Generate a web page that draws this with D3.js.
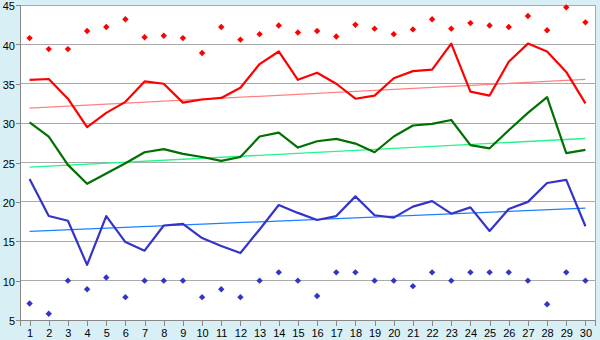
<!DOCTYPE html>
<html>
<head>
<meta charset="utf-8">
<script src="https://cdn.jsdelivr.net/npm/d3@7/dist/d3.min.js"></script>
<style>
body{margin:0;background:#d9eff6;}
text{font-family:"Liberation Sans",Arial,sans-serif;font-size:11px;fill:#000;}
</style>
</head>
<body>
<svg id="chart" width="600" height="340"></svg>
<script>
// jours du mois (axe x)
const days=[1,2,3,4,5,6,7,8,9,10,11,12,13,14,15,16,17,18,19,20,21,22,23,24,25,26,27,28,29,30];
const yTicks=[5,10,15,20,25,30,35,40,45];

// courbes journalieres
const redLine=[35.5,35.6,33.1,29.5,31.3,32.7,35.3,35.0,32.6,33.0,33.2,34.5,37.5,39.1,35.5,36.4,35.0,33.1,33.5,35.7,36.6,36.8,40.1,34.0,33.5,37.8,40.1,39.1,36.5,32.5];
const greenLine=[30.1,28.3,24.7,22.3,23.6,24.9,26.3,26.7,26.1,25.7,25.2,25.7,28.3,28.8,26.9,27.7,28.0,27.4,26.3,28.3,29.7,29.9,30.4,27.2,26.8,29.1,31.3,33.3,26.2,26.6];
const blueLine=[22.9,18.2,17.6,12.0,18.2,14.9,13.8,17.0,17.2,15.4,14.4,13.5,16.5,19.6,18.6,17.7,18.2,20.7,18.3,18.0,19.4,20.1,18.5,19.3,16.3,19.1,20.0,22.4,22.8,16.9];

// extremes (points)
const redMax=[40.8,39.4,39.4,41.7,42.2,43.2,40.9,41.1,40.8,38.9,42.2,40.6,41.3,42.4,41.5,41.7,41.0,42.5,42.0,41.3,41.9,43.2,42.0,42.7,42.4,42.2,43.6,41.8,44.7,42.8];
const blueMin=[7.1,5.8,10,8.9,10.4,7.9,10,10,10,7.9,8.9,7.9,10,11.05,10,8.05,11.05,11.05,10,10,9.3,11.05,10,11.05,11.05,11.05,10,7.0,11.05,10];

// tendances (debut, fin)
const redTrend=[31.9,35.55];
const greenTrend=[24.4,28.05];
const blueTrend=[16.25,19.2];

const svg=d3.select("#chart");
const mLeft=20,mRight=595,mTop=5,mBottom=320;

let x=d3.scalePoint().domain(days).range([mLeft,mRight]).padding(0.5);
let y=d3.scaleLinear().domain([5,45]).range([mBottom,mTop]);

// fond blanc du graphique
svg.append("rect").attr("x",mLeft).attr("y",mTop).attr("width",mRight-mLeft).attr("height",mBottom-mTop)
   .attr("fill","#fff").attr("stroke","#aaa").attr("shape-rendering","crispEdges");

// grille
svg.append("g").selectAll("line").data(yTicks.slice(1,-1)).join("line")
   .attr("x1",mLeft).attr("x2",mRight).attr("y1",d=>y(d)).attr("y2",d=>y(d))
   .attr("stroke","#aaa").attr("shape-rendering","crispEdges");

// axes
let gy=svg.append("g").attr("transform",`translate(${mLeft},0)`)
   .call(d3.axisLeft(y).tickValues(yTicks).tickSize(4).tickPadding(1));
let gx=svg.append("g").attr("transform",`translate(0,${mBottom})`)
   .call(d3.axisBottom(x).tickSize(6).tickPadding(3));
for(let g of [gx,gy]){
    g.select(".domain").attr("stroke","#888").attr("shape-rendering","crispEdges");
    g.selectAll(".tick line").attr("stroke","#888").attr("shape-rendering","crispEdges");
    g.selectAll("text").attr("font-family","Liberation Sans, Arial, sans-serif").attr("font-size",11).attr("fill","#000");
}
// etiquettes y un peu plus bas, comme l'original
gy.selectAll("text").attr("dy","0.42em");

// lignes de tendance
function addTrend(t,color){
    svg.append("line").attr("x1",x(days[0])).attr("x2",x(days[days.length-1]))
       .attr("y1",y(t[0])).attr("y2",y(t[1]))
       .attr("stroke",color).attr("stroke-width",1.3);
}
addTrend(redTrend,"#ff8080");
addTrend(greenTrend,"#22f58a");
addTrend(blueTrend,"#1a80ff");

// courbes
let line=d3.line().x((d,i)=>x(days[i])).y(d=>y(d));
function addLine(vals,color){
    svg.append("path").datum(vals).attr("d",line)
       .attr("fill","none").attr("stroke",color).attr("stroke-width",2.2).attr("stroke-linejoin","round");
}
addLine(redLine,"#ff0000");
addLine(greenLine,"#007000");
addLine(blueLine,"#3434c8");

// points
function addDots(vals,color){
    svg.append("g").selectAll("path").data(vals).join("path")
       .attr("d","M0,-3.2L3.2,0L0,3.2L-3.2,0Z")
       .attr("transform",(d,i)=>`translate(${x(days[i])},${y(d)})`)
       .attr("fill",color);
}
addDots(redMax,"#ff0000");
addDots(blueMin,"#3434c8");
</script>
</body>
</html>
